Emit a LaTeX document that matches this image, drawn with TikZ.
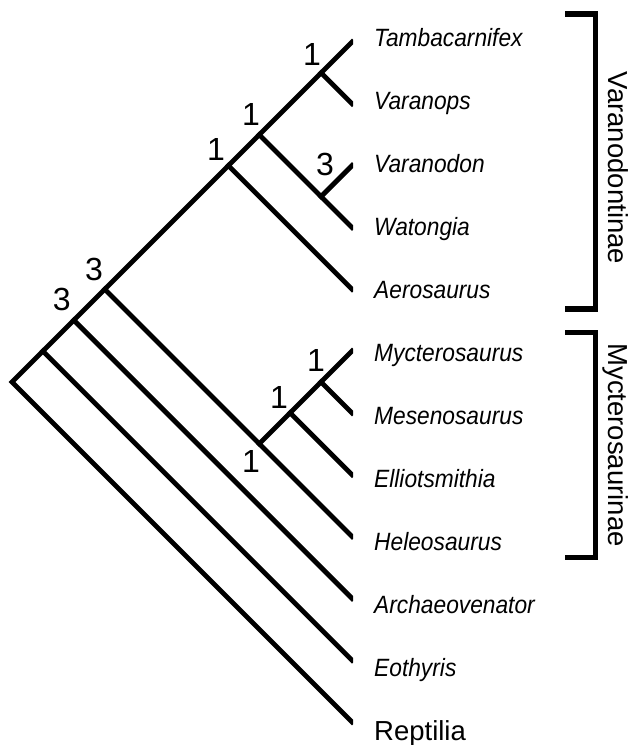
\documentclass[tikz,border=0pt]{standalone}
\usepackage{fontspec}
\setmainfont{Liberation Sans}
\newfontfamily\taxfont[FakeStretch=0.91]{Liberation Sans}
\begin{document}
\begin{tikzpicture}[x=1pt,y=-1pt,
  branch/.style={line width=4.8pt, line cap=rect, line join=miter},
  bracketline/.style={line width=5.5pt, line cap=butt, line join=miter},
  taxon/.style={font={\taxfont\itshape\fontsize{25}{30}\selectfont}, anchor=base west, inner sep=0pt},
  outgroup/.style={font={\fontsize{27.5}{33}\selectfont}, anchor=base west, inner sep=0pt},
  support/.style={font={\fontsize{32}{38}\selectfont}, inner sep=0pt},
  cladelbl/.style={font={\fontsize{27.5}{33}\selectfont}, rotate=-90, anchor=base, inner sep=0pt}]
\useasboundingbox (0,0) rectangle (640,745);
\fill[white] (0,0) rectangle (640,745);

% ---- tree ----
\begin{scope}
\clip (0,0) rectangle (353,745);
\begin{scope}[shift={(12,382)}, x=30.909pt, y=-30.909pt]
  \coordinate (root) at (0,0);
  \coordinate (tTam) at (11,-11);
  \coordinate (tVps) at (11,-9);
  \coordinate (tVdn) at (11,-7);
  \coordinate (tWat) at (11,-5);
  \coordinate (tAer) at (11,-3);
  \coordinate (tMyc) at (11,-1);
  \coordinate (tMes) at (11,1);
  \coordinate (tEll) at (11,3);
  \coordinate (tHel) at (11,5);
  \coordinate (tArc) at (11,7);
  \coordinate (tEot) at (11,9);
  \coordinate (tRep) at (11,11);
  \coordinate (nEot) at (1,-1);
  \coordinate (nArc) at (2,-2);
  \coordinate (nHel) at (3,-3);
  \coordinate (nAer) at (7,-7);
  \coordinate (nWat) at (8,-8);
  \coordinate (nVps) at (10,-10);
  \coordinate (nVdn) at (10,-6);
  \coordinate (nMyc) at (8,2);
  \coordinate (nEll) at (9,1);
  \coordinate (nMes) at (10,0);

  \draw[branch] (tRep) -- (root) -- (tTam);
  \draw[branch] (nEot) -- (tEot);
  \draw[branch] (nArc) -- (tArc);
  \draw[branch] (nHel) -- (tHel);
  \draw[branch] (nAer) -- (tAer);
  \draw[branch] (nWat) -- (tWat);
  \draw[branch] (nVps) -- (tVps);
  \draw[branch] (nVdn) -- (tVdn);
  \draw[branch] (nMyc) -- (tMyc);
  \draw[branch] (nEll) -- (tEll);
  \draw[branch] (nMes) -- (tMes);
\end{scope}
\end{scope}

% ---- support values ----
\node[support] (sArc) at (61.7,299) {3};
\node[support] (sHel) at (94,269) {3};
\node[support] (sAer) at (216,149) {1};
\node[support] (sWat) at (251,114) {1};
\node[support] (sVps) at (312,54) {1};
\node[support] (sVdn) at (325,164) {3};
\node[support] (sMes) at (316,360) {1};
\node[support] (sEll) at (279,397) {1};
\node[support] (sMyc) at (251,461) {1};

% ---- taxon labels ----
\node[taxon] (lTam) at (374,46.7) {Tambacarnifex};
\node[taxon] (lVps) at (374,109.7) {Varanops};
\node[taxon] (lVdn) at (374,172.6) {Varanodon};
\node[taxon] (lWat) at (374,235.6) {Watongia};
\node[taxon] (lAer) at (374,298.5) {Aerosaurus};
\node[taxon] (lMyc) at (374,361.5) {Mycterosaurus};
\node[taxon] (lMes) at (374,424.5) {Mesenosaurus};
\node[taxon] (lEll) at (374,487.4) {Elliotsmithia};
\node[taxon] (lHel) at (374,550.4) {Heleosaurus};
\node[taxon] (lArc) at (374,613.3) {Archaeovenator};
\node[taxon] (lEot) at (374,676.3) {Eothyris};
\node[outgroup] (lRep) at (374,740.5) {Reptilia};

% ---- clade brackets ----
\coordinate (bVa1) at (565,14);
\coordinate (bVa2) at (595.3,14);
\coordinate (bVa3) at (595.3,309);
\coordinate (bVa4) at (565,309);
\draw[bracketline] (bVa1) -- (bVa2) -- (bVa3) -- (bVa4);
\coordinate (bMy1) at (565,332.5);
\coordinate (bMy2) at (595.3,332.5);
\coordinate (bMy3) at (595.3,557.5);
\coordinate (bMy4) at (565,557.5);
\draw[bracketline] (bMy1) -- (bMy2) -- (bMy3) -- (bMy4);

\node[cladelbl] (cVa) at (608,168) {Varanodontinae};
\node[cladelbl] (cMy) at (608,445) {Mycterosaurinae};
\end{tikzpicture}
\end{document}
